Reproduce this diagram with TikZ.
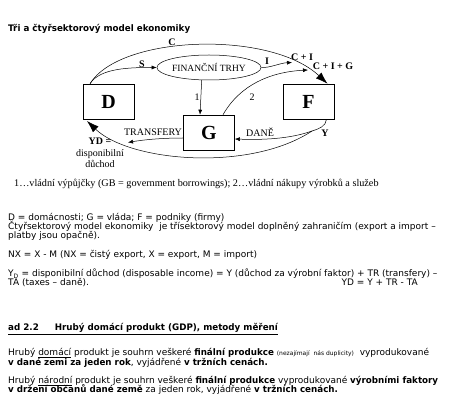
\documentclass[tikz,border=0pt]{standalone}
\usepackage{fontspec}
\setmainfont{Liberation Serif}
\newfontfamily\tah[BoldFeatures={FakeStretch=0.97}]{DejaVu Sans}
\usetikzlibrary{arrows.meta,shapes.geometric}
\begin{document}
\begin{tikzpicture}[x=1pt,y=-1pt,
  box/.style={draw, line width=0.6pt, minimum width=51pt, minimum height=35pt, inner sep=0pt, font=\fontsize{20}{20}\selectfont\bfseries},
  lab/.style={inner sep=0pt, font=\fontsize{10}{10}\selectfont},
  blab/.style={inner sep=0pt, font=\fontsize{10}{10}\selectfont\bfseries},
  txt/.style={anchor=base west, inner sep=0pt, font=\tah\fontsize{9}{9}\selectfont},
  flow/.style={draw, line width=0.5pt},
  sarr/.style={-{Latex[length=5pt,width=4pt]}},
  barr/.style={-{Latex[length=12pt,width=8pt]}}]
\useasboundingbox (0,0) rectangle (450,411);

% title
\node[txt, font=\tah\fontsize{9}{9}\selectfont\bfseries] (title) at (8,32) {Tři a čtyřsektorový model ekonomiky};

% boxes
\node[box] (D) at (108.5,101.5) {D};
\node[box] (G) at (209,132.5) {G};
\node[box] (F) at (308.5,101.5) {F};
\node[ellipse, draw, line width=0.5pt, minimum width=92pt, minimum height=25pt, inner sep=0pt, font=\fontsize{9.5}{10}\selectfont] (FT) at (209,67.5) {FINANČNÍ TRHY};

\coordinate (ci) at (292,62.5);
\coordinate (cig) at (308,70);
\coordinate (yj) at (312,131);
\coordinate (dt) at (87,121);
\coordinate (ydt) at (128,142.5);

% connectors
\draw[flow,barr] ([xshift=-18.5pt]D.north) .. controls (120,35) and (270,30) .. ([xshift=19pt]F.north);
\draw[flow,sarr] ([xshift=-18.5pt]D.north) .. controls (100,68) and (130,67.5) .. (FT.west);
\draw[flow,sarr] (FT.east) .. controls (270,68) and (280,63) .. (ci);
\draw[flow,sarr] ([xshift=14pt]G.north) .. controls (240,85) and (270,72) .. (cig);
\draw[flow,sarr] (FT.240) -- ([xshift=-9pt]G.north);
\draw[flow] ([xshift=18pt]F.south) .. controls (326,126) and (319,129) .. (yj);
\draw[flow,sarr] (yj) .. controls (290,139) and (262,140) .. ([yshift=-6.5pt]G.east);
\draw[flow,barr] (yj) .. controls (250,172) and (130,162) .. (dt);
\draw[flow,sarr] ([yshift=-5.5pt]G.west) .. controls (160,138) and (142,140) .. (ydt);

% labels
\node[blab] (lC) at (172,42) {C};
\node[blab] (lS) at (142,64) {S};
\node[blab] (lI) at (267,61) {I};
\node[blab] (lCI) at (302,57) {C + I};
\node[blab] (lCIG) at (333,66) {C + I + G};
\node[lab] (l1) at (197,97) {1};
\node[lab] (l2) at (252,97) {2};
\node[lab] (lTR) at (153,132) {TRANSFERY};
\node[lab] (lDA) at (260,132) {DANĚ};
\node[blab] (lY) at (325,133) {Y};
\node[align=center, inner sep=0pt, font=\fontsize{10}{11.5}\selectfont, anchor=north] (lYD) at (100,138) {\textbf{YD =}\\disponibilní\\důchod};

% footnote
\node[anchor=base west, inner sep=0pt, font=\fontsize{10.2}{10}\selectfont] (fn) at (14,187) {1…vládní výpůjčky (GB = government borrowings); 2…vládní nákupy výrobků a služeb};

% text block
\node[txt] (t1) at (8,220.5) {D = domácnosti; G = vláda; F = podniky (firmy)};
\node[txt] (t2) at (8,229.5) {Čtyřsektorový model ekonomiky\ \ je třísektorový model doplněný zahraničím (export a import –};
\node[txt] (t3) at (8,238.5) {platby jsou opačně).};
\node[txt] (t4) at (8,258) {NX = X - M (NX = čistý export, X = export, M = import)};
\node[txt] (t5) at (8,277) {Y\textsubscript{D} = disponibilní důchod (disposable income) = Y (důchod za výrobní faktor) + TR (transfery) –};
\node[txt] (t6) at (8,286) {TA (taxes – daně).};
\node[txt, anchor=base east] (t7) at (418,286) {YD = Y + TR - TA};
\node[txt, font=\tah\fontsize{9}{9}\selectfont\bfseries] (h) at (8,331) {\underline{ad 2.2\hspace{16pt}Hrubý domácí produkt (GDP), metody měření}};
\node[txt] (p1) at (8,356) {Hrubý \underline{domácí} produkt je souhrn veškeré \textbf{finální produkce} {\fontsize{6}{6}\selectfont (nezajímají\ \ nás duplicity)}\ \ vyprodukované};
\node[txt] (p2) at (8,366) {\textbf{v dané zemi za jeden rok}, vyjádřené \textbf{v tržních cenách.}};
\node[txt] (p3) at (8,384) {Hrubý \underline{národní} produkt je souhrn veškeré \textbf{finální produkce} vyprodukované \textbf{výrobními faktory}};
\node[txt] (p4) at (8,393) {\textbf{v držení občanů dané země} za jeden rok, vyjádřené \textbf{v tržních cenách.}};
\end{tikzpicture}
\end{document}
